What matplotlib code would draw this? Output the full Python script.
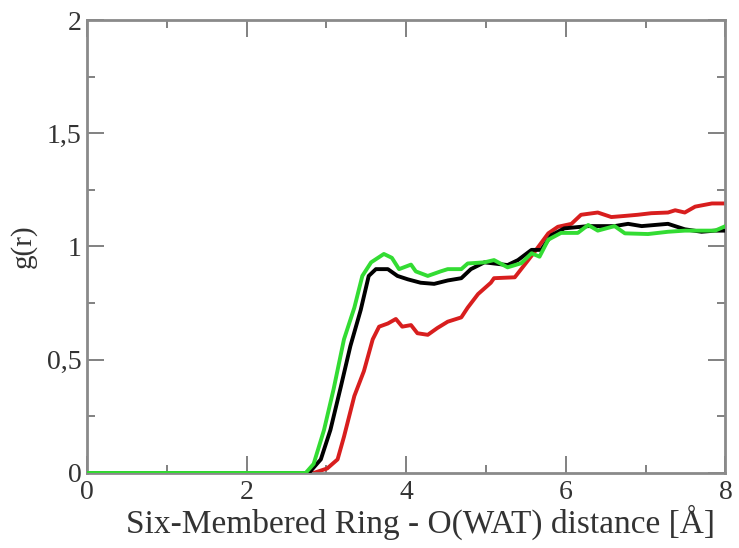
import matplotlib
matplotlib.use("Agg")
import matplotlib.pyplot as plt
from matplotlib.ticker import MultipleLocator, FixedLocator

x_black = [0.0, 2.78, 2.93, 3.05, 3.18, 3.30, 3.43, 3.53, 3.62, 3.77, 3.89, 4.02, 4.18, 4.35, 4.52, 4.69, 4.81, 4.98,
           5.27, 5.40, 5.57, 5.69, 5.82, 5.98, 6.28, 6.61, 6.78, 6.95, 7.28, 7.49, 7.70, 7.87, 8.0]
y_black = [0.0, 0.0, 0.06, 0.19, 0.38, 0.56, 0.72, 0.87, 0.90, 0.90, 0.87, 0.855, 0.84, 0.835, 0.85, 0.86, 0.90, 0.93,
           0.918, 0.94, 0.985, 0.985, 1.05, 1.08, 1.09, 1.09, 1.10, 1.09, 1.10, 1.076, 1.065, 1.07, 1.07]

x_green = [0.0, 2.74, 2.84, 2.97, 3.09, 3.22, 3.35, 3.45, 3.56, 3.72, 3.82, 3.91, 4.06, 4.12, 4.27, 4.43, 4.52, 4.69,
           4.77, 4.98, 5.10, 5.27, 5.44, 5.57, 5.67, 5.78, 5.94, 6.15, 6.28, 6.40, 6.61, 6.74, 7.03, 7.28, 7.49,
           7.66, 7.87, 8.0]
y_green = [0.0, 0.0, 0.04, 0.19, 0.37, 0.59, 0.73, 0.87, 0.93, 0.967, 0.95, 0.90, 0.92, 0.89, 0.87, 0.89, 0.90, 0.90,
           0.925, 0.93, 0.94, 0.908, 0.926, 0.97, 0.955, 1.03, 1.06, 1.06, 1.095, 1.07, 1.09, 1.058, 1.055, 1.065, 1.07,
           1.07, 1.07, 1.09]

x_red = [0.0, 2.84, 3.01, 3.14, 3.22, 3.35, 3.47, 3.58, 3.66, 3.77, 3.87, 3.95, 4.06, 4.14, 4.27, 4.39, 4.52, 4.69,
         4.77, 4.90, 5.06, 5.10, 5.36, 5.48, 5.61, 5.78, 5.90, 6.07, 6.19, 6.40, 6.57, 6.74, 6.90, 7.07, 7.28, 7.37,
         7.49, 7.62, 7.83, 8.0]
y_red = [0.0, 0.0, 0.02, 0.06, 0.16, 0.34, 0.45, 0.59, 0.646, 0.66, 0.68, 0.646, 0.653, 0.617, 0.61, 0.64, 0.668, 0.687,
         0.73, 0.79, 0.84, 0.86, 0.864, 0.918, 0.977, 1.058, 1.087, 1.10, 1.14, 1.15, 1.13, 1.135, 1.14, 1.147, 1.15,
         1.16, 1.15, 1.176, 1.19, 1.19]

x_ticks = [0, 2, 4, 6, 8]
x_ticklabels = ["0", "2", "4", "6", "8"]
y_ticks = [0, 0.5, 1, 1.5, 2]
y_ticklabels = ["0", "0,5", "1", "1,5", "2"]

plt.rcParams['font.family'] = ['Liberation Serif', 'DejaVu Serif']

fig = plt.figure(figsize=(7.39, 5.48), dpi=100)
ax = fig.add_axes([0.1177, 0.1369, 0.864, 0.8266])

ax.plot(x_black, y_black, color='black', lw=2.8, zorder=3)
ax.plot(x_red, y_red, color='#d81e1e', lw=2.8, zorder=2)
ax.plot(x_green, y_green, color='#33dc33', lw=2.8, zorder=4)

ax.set_xlim(0, 8)
ax.set_ylim(0, 2)
ax.xaxis.set_major_locator(FixedLocator(x_ticks))
ax.set_xticklabels(x_ticklabels)
ax.yaxis.set_major_locator(FixedLocator(y_ticks))
ax.set_yticklabels(y_ticklabels)
ax.xaxis.set_minor_locator(MultipleLocator(1))
ax.yaxis.set_minor_locator(MultipleLocator(0.25))

for s in ax.spines.values():
    s.set_color('#8a8a8a')
    s.set_linewidth(2)

ax.tick_params(which='both', direction='in', top=True, right=True, color='#777777', width=1.3)
ax.tick_params(which='major', length=12, labelsize=20, pad=5, labelcolor='#333333')
ax.tick_params(which='minor', length=6)
ax.tick_params(axis='y', which='major', pad=4)

ax.set_xlabel("Six-Membered Ring - O(WAT) distance [Å]", fontsize=24, color='#333333', labelpad=0)
ax.xaxis.label.set_x(0.522)
ax.set_ylabel("g(r)", fontsize=21, color='#333333', labelpad=7)

fig.savefig("out.png", dpi=100, facecolor='white')
